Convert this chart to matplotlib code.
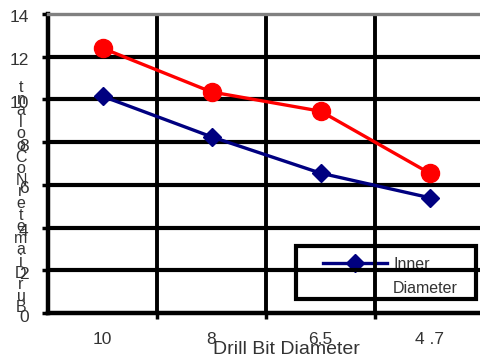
import matplotlib
matplotlib.use("Agg")
import matplotlib.pyplot as plt
import matplotlib.transforms as mtransforms
from matplotlib.lines import Line2D
from matplotlib.patches import Rectangle

# drill bit sizes and measured hole diameters
drill_bits = ["10", "8", "6.5", "4 .7"]
outer_diameter = [12.4, 10.35, 9.45, 6.55]
inner_diameter = [10.15, 8.25, 6.55, 5.4]
y_ticks = [0, 2, 4, 6, 8, 10, 12, 14]
y_label = "BurDiameterNoCoolant"

plt.rcParams["font.family"] = ["Liberation Sans", "DejaVu Sans"]
text_color = "#333333"

fig = plt.figure(figsize=(4.8, 3.57), dpi=100)
ax = fig.add_axes([48 / 480, 44 / 357, 436 / 480, 299 / 357])

x = list(range(len(drill_bits)))

# heavy black grid: horizontal at every tick, vertical between categories
for v in y_ticks[1:-1]:
    ax.axhline(v, color="black", linewidth=3.0, zorder=2)
for b in [i + 0.5 for i in x[:-1]]:
    ax.axvline(b, color="black", linewidth=2.8, zorder=2)

ax.plot(x, outer_diameter, color="#ff0000", linewidth=2.4,
        marker="o", markersize=13, zorder=4, label="Outer Diameter")
ax.plot(x, inner_diameter, color="#000080", linewidth=2.4,
        marker="D", markersize=9, zorder=4, label="Inner Diameter")

ax.set_xlim(-0.5, len(drill_bits) - 0.5)
ax.set_ylim(0, 14)

ax.set_xticks(x)
ax.set_xticklabels(drill_bits)
ax.set_xticks([i + 0.5 for i in x], minor=True)
ax.tick_params(axis="x", which="major", length=0, pad=14,
               labelsize=12.5, labelcolor=text_color)
ax.tick_params(axis="x", which="minor", length=4, width=2.5,
               color="black", direction="out")
ax.set_yticks(y_ticks)
ax.tick_params(axis="y", length=4, width=2.5, color="black",
               pad=10, labelsize=12.5, labelcolor=text_color)

# y tick labels sit a little below their grid lines
shift = mtransforms.ScaledTranslation(0, -2.5 / 100, fig.dpi_scale_trans)
for lab in ax.get_yticklabels():
    lab.set_transform(lab.get_transform() + shift)

for side in ["left", "bottom", "right"]:
    ax.spines[side].set_color("black")
    ax.spines[side].set_linewidth(3.2)
ax.spines["top"].set_color("#808080")
ax.spines["top"].set_linewidth(2.4)

# legend shows only the inner series, its label split over two rows
handles = [
    Line2D([], [], color="#000080", linewidth=2.4, marker="D", markersize=9),
    Line2D([], [], linestyle="none"),
]
leg = ax.legend(handles, ["Inner", "Diameter"],
                loc="upper left", bbox_to_anchor=(318 / 480, 1 - 252 / 357),
                bbox_transform=fig.transFigure, borderaxespad=0,
                fontsize=11.5, handlelength=4.0, handletextpad=0.4,
                borderpad=0.3, labelspacing=0.55, frameon=False)
leg.set_zorder(1)
for t in leg.get_texts():
    t.set_color(text_color)

# legend border sits under the grid lines
ax.add_patch(Rectangle((296 / 480, 1 - 299 / 357), 180 / 480, 53 / 357,
                       transform=fig.transFigure, fill=False,
                       edgecolor="black", linewidth=3.0, zorder=1,
                       clip_on=False))

fig.text(286 / 480, 1 - 349 / 357, "Drill Bit Diameter", ha="center",
         va="center", fontsize=14, color=text_color)

# vertical label with upright characters stacked from the bottom up
for i, ch in enumerate(y_label):
    fig.text(21 / 480, 1 - (308 - i * 11.6) / 357, ch, ha="center",
             va="center", fontsize=11.5, color=text_color)

fig.savefig("out.png", dpi=100)
